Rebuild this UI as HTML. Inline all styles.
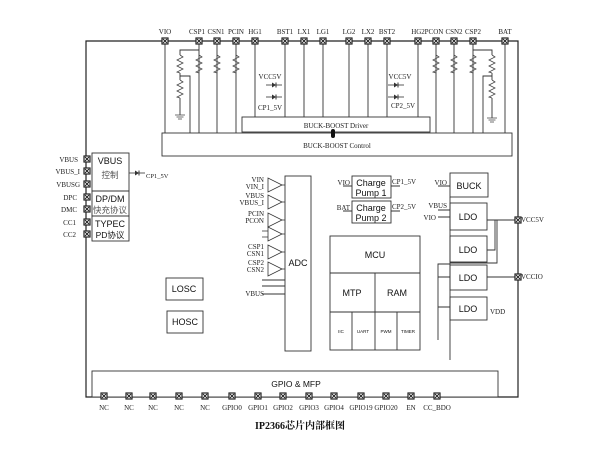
<!DOCTYPE html>
<html><head><meta charset="utf-8"><style>
html,body{margin:0;padding:0;background:#fff;width:600px;height:450px;overflow:hidden}
svg{display:block}
.s{font-family:"Liberation Serif","Noto Serif CJK SC",serif;font-size:7px;fill:#222}
.a{font-family:"Liberation Sans","Noto Sans CJK SC",sans-serif;fill:#111}
</style></head><body>
<svg width="600" height="450" viewBox="0 0 600 450" xmlns="http://www.w3.org/2000/svg">
<defs>
<g id="p"><rect x="-3" y="-3" width="6" height="6" fill="#fff" stroke="#222" stroke-width="1.2"/><path d="M-2 -2L2 2M2 -2L-2 2" stroke="#222" stroke-width="1"/></g>
<path id="r" d="M0 0l3 2l-6 3l6 3l-6 3l6 3l-6 3l3 1" fill="none" stroke="#444" stroke-width="0.8"/>
<g id="gnd"><path d="M-5 0h10M-3.5 2h7M-2 4h4" stroke="#444" stroke-width="0.8"/></g>
<g id="d"><path d="M-8 0h16" stroke="#333" stroke-width="0.8"/><path d="M-2 -2.5v5l4 -2.5z" fill="#333"/><path d="M2 -2.5v5" stroke="#333"/></g>
<polygon id="t" points="0,-7 0,7 14,0" fill="#fff" stroke="#333" stroke-width="0.8"/>
</defs>
<g stroke="#222" stroke-width="1.2" fill="none">
<path d="M86 41H518V397H86Z"/>
</g>
<g stroke="#333" stroke-width="0.9" fill="none">
<path d="M165 41V133M199 41V133M217 41V133M236 41V133M255 41V117M285 41V117M304 41V117M323 41V117M349 41V117M368 41V117M387 41V117M418 41V117M436 41V133M454 41V133M473 41V133M505 41V133"/>
<path d="M199 50H180V55M180 73V80M180 76H190V133M180 98V115"/>
<path d="M473 50H492V55M492 73V80M492 76H483V133M492 98V118"/>
<rect x="242" y="117" width="188" height="15" fill="#fff"/>
<rect x="162" y="133" width="350" height="23" fill="#fff"/>
<rect x="92" y="153" width="37" height="38"/><rect x="92" y="191" width="37" height="25"/><rect x="92" y="216" width="37" height="25"/>
<rect x="285" y="176" width="26" height="175"/>
<path d="M262 280H285M262 286H285M262 294H285"/>
<rect x="166" y="278" width="37" height="22"/><rect x="167" y="311" width="36" height="22"/>
<rect x="352" y="176" width="39" height="22"/><rect x="352" y="201" width="39" height="22"/>
<path d="M343 186H352M391 186H400M343 211H352M391 211H400"/>
<rect x="330" y="236" width="90" height="114"/>
<path d="M330 273H420M330 312H420M375 273V350M352 312V350M397 312V350"/>
<rect x="450" y="173" width="38" height="24"/>
<rect x="450" y="203" width="37" height="27"/><rect x="450" y="236" width="37" height="26"/>
<rect x="450" y="265" width="37" height="25"/><rect x="450" y="297" width="37" height="23"/>
<path d="M450 197V360M438 186H450M438 210H450M438 217H450"/>
<path d="M487 220H518M487 250H495V220M497 220V263H450M487 277H518"/>
<path d="M450 264H438V340M438 277H450M438 307H450"/>
<rect x="92" y="371" width="406" height="26" fill="#fff"/>
</g>
<use href="#gnd" x="180" y="115"/><use href="#gnd" x="492" y="118"/>
<g>
<use href="#r" x="180" y="55"/><use href="#r" x="199" y="55"/><use href="#r" x="217" y="55"/><use href="#r" x="236" y="55"/>
<use href="#r" x="180" y="80"/>
<use href="#r" x="436" y="55"/><use href="#r" x="454" y="55"/><use href="#r" x="473" y="55"/><use href="#r" x="492" y="55"/><use href="#r" x="492" y="80"/>
</g>
<use href="#d" x="274" y="85"/><use href="#d" x="274" y="97"/>
<use href="#d" x="396" y="85"/><use href="#d" x="396" y="97"/>
<use href="#d" x="137" y="173"/>
<rect x="331" y="129" width="4" height="9" rx="2" fill="#111"/>
<g>
<use href="#t" x="268" y="185"/><use href="#t" x="268" y="202"/><use href="#t" x="268" y="220"/><use href="#t" x="268" y="234"/><use href="#t" x="268" y="252"/><use href="#t" x="268" y="269"/>
</g>
<g stroke="#333" stroke-width="0.8"><path d="M282 185H285M282 202H285M282 220H285M282 234H285M282 252H285M282 269H285M262 231H268M262 237H268"/></g>
<g>
<use href="#p" x="165" y="41"/><use href="#p" x="199" y="41"/><use href="#p" x="217" y="41"/><use href="#p" x="236" y="41"/><use href="#p" x="255" y="41"/><use href="#p" x="285" y="41"/><use href="#p" x="304" y="41"/><use href="#p" x="323" y="41"/><use href="#p" x="349" y="41"/><use href="#p" x="368" y="41"/><use href="#p" x="387" y="41"/><use href="#p" x="418" y="41"/><use href="#p" x="436" y="41"/><use href="#p" x="454" y="41"/><use href="#p" x="473" y="41"/><use href="#p" x="505" y="41"/>
<use href="#p" x="87" y="159"/><use href="#p" x="87" y="171"/><use href="#p" x="87" y="184"/><use href="#p" x="87" y="197"/><use href="#p" x="87" y="209"/><use href="#p" x="87" y="222"/><use href="#p" x="87" y="234"/>
<use href="#p" x="518" y="220"/><use href="#p" x="518" y="277"/>
<use href="#p" x="104" y="396"/><use href="#p" x="129" y="396"/><use href="#p" x="153" y="396"/><use href="#p" x="179" y="396"/><use href="#p" x="205" y="396"/><use href="#p" x="232" y="396"/><use href="#p" x="258" y="396"/><use href="#p" x="283" y="396"/><use href="#p" x="309" y="396"/><use href="#p" x="334" y="396"/><use href="#p" x="361" y="396"/><use href="#p" x="386" y="396"/><use href="#p" x="411" y="396"/><use href="#p" x="437" y="396"/>
</g>
<g class="s" text-anchor="middle">
<text x="165" y="34">VIO</text><text x="197" y="34">CSP1</text><text x="216" y="34">CSN1</text><text x="236" y="34">PCIN</text><text x="255" y="34">HG1</text><text x="285" y="34">BST1</text><text x="304" y="34">LX1</text><text x="323" y="34">LG1</text><text x="349" y="34">LG2</text><text x="368" y="34">LX2</text><text x="387" y="34">BST2</text><text x="418" y="34">HG2</text><text x="434" y="34">PCON</text><text x="454" y="34">CSN2</text><text x="473" y="34">CSP2</text><text x="505" y="34">BAT</text>
<text x="270" y="79">VCC5V</text><text x="270" y="110">CP1_5V</text><text x="400" y="79">VCC5V</text><text x="403" y="108">CP2_5V</text>
<text x="104" y="410">NC</text><text x="129" y="410">NC</text><text x="153" y="410">NC</text><text x="179" y="410">NC</text><text x="205" y="410">NC</text><text x="232" y="410">GPIO0</text><text x="258" y="410">GPIO1</text><text x="283" y="410">GPIO2</text><text x="309" y="410">GPIO3</text><text x="334" y="410">GPIO4</text><text x="361" y="410">GPIO19</text><text x="386" y="410">GPIO20</text><text x="411" y="410">EN</text><text x="437" y="410">CC_BDO</text>
</g>
<g class="s" text-anchor="end">
<text x="78" y="162">VBUS</text><text x="80" y="174">VBUS_I</text><text x="80" y="187">VBUSG</text><text x="77" y="200">DPC</text><text x="77" y="212">DMC</text><text x="76" y="225">CC1</text><text x="76" y="237">CC2</text>
<text x="264" y="182">VIN</text><text x="264" y="189">VIN_I</text><text x="264" y="198">VBUS</text><text x="264" y="205">VBUS_I</text><text x="264" y="216">PCIN</text><text x="264" y="223">PCON</text><text x="264" y="249">CSP1</text><text x="264" y="256">CSN1</text><text x="264" y="265">CSP2</text><text x="264" y="272">CSN2</text><text x="264" y="296">VBUS</text>
<text x="350" y="185">VIO</text><text x="350" y="210">BAT</text><text x="447" y="185">VIO</text><text x="447" y="208">VBUS</text><text x="436" y="220">VIO</text>
</g>
<g class="s">
<text x="146" y="178" font-size="6.5">CP1_5V</text><text x="392" y="184">CP1_5V</text><text x="392" y="209">CP2_5V</text>
<text x="521" y="222">VCC5V</text><text x="521" y="279">VCCIO</text><text x="490" y="314">VDD</text>
</g>
<g class="s" text-anchor="middle" font-size="8.5">
<text x="336" y="128">BUCK-BOOST Driver</text><text x="337" y="148">BUCK-BOOST Control</text>
</g>
<g class="a" text-anchor="middle" font-size="9">
<text x="110" y="164">VBUS</text><text x="110" y="178" font-size="8.5" fill="#555">控制</text>
<text x="110" y="202">DP/DM</text><text x="110" y="213" font-size="8.5" fill="#555">快充协议</text>
<text x="110" y="227">TYPEC</text><text x="110" y="238" font-size="8.5">PD协议</text>
<text x="298" y="266">ADC</text>
<text x="184" y="292">LOSC</text><text x="185" y="325">HOSC</text>
<text x="371" y="186">Charge</text><text x="371" y="196">Pump 1</text>
<text x="371" y="211">Charge</text><text x="371" y="221">Pump 2</text>
<text x="375" y="258">MCU</text><text x="352" y="296">MTP</text><text x="397" y="296">RAM</text>
<text x="341" y="333" font-size="4.5">IIC</text><text x="363" y="333" font-size="4.5">UART</text><text x="386" y="333" font-size="4.5">PWM</text><text x="408" y="333" font-size="4.5">TIMER</text>
<text x="469" y="189">BUCK</text><text x="468" y="220">LDO</text><text x="468" y="253">LDO</text><text x="468" y="281">LDO</text><text x="468" y="312">LDO</text>
<text x="296" y="387" font-size="8.5">GPIO &amp; MFP</text>
</g>
<text x="300" y="429" text-anchor="middle" font-family="Liberation Serif,'Noto Serif CJK SC',serif" font-weight="bold" font-size="10" fill="#111">IP2366芯片内部框图</text>
</svg>
</body></html>
